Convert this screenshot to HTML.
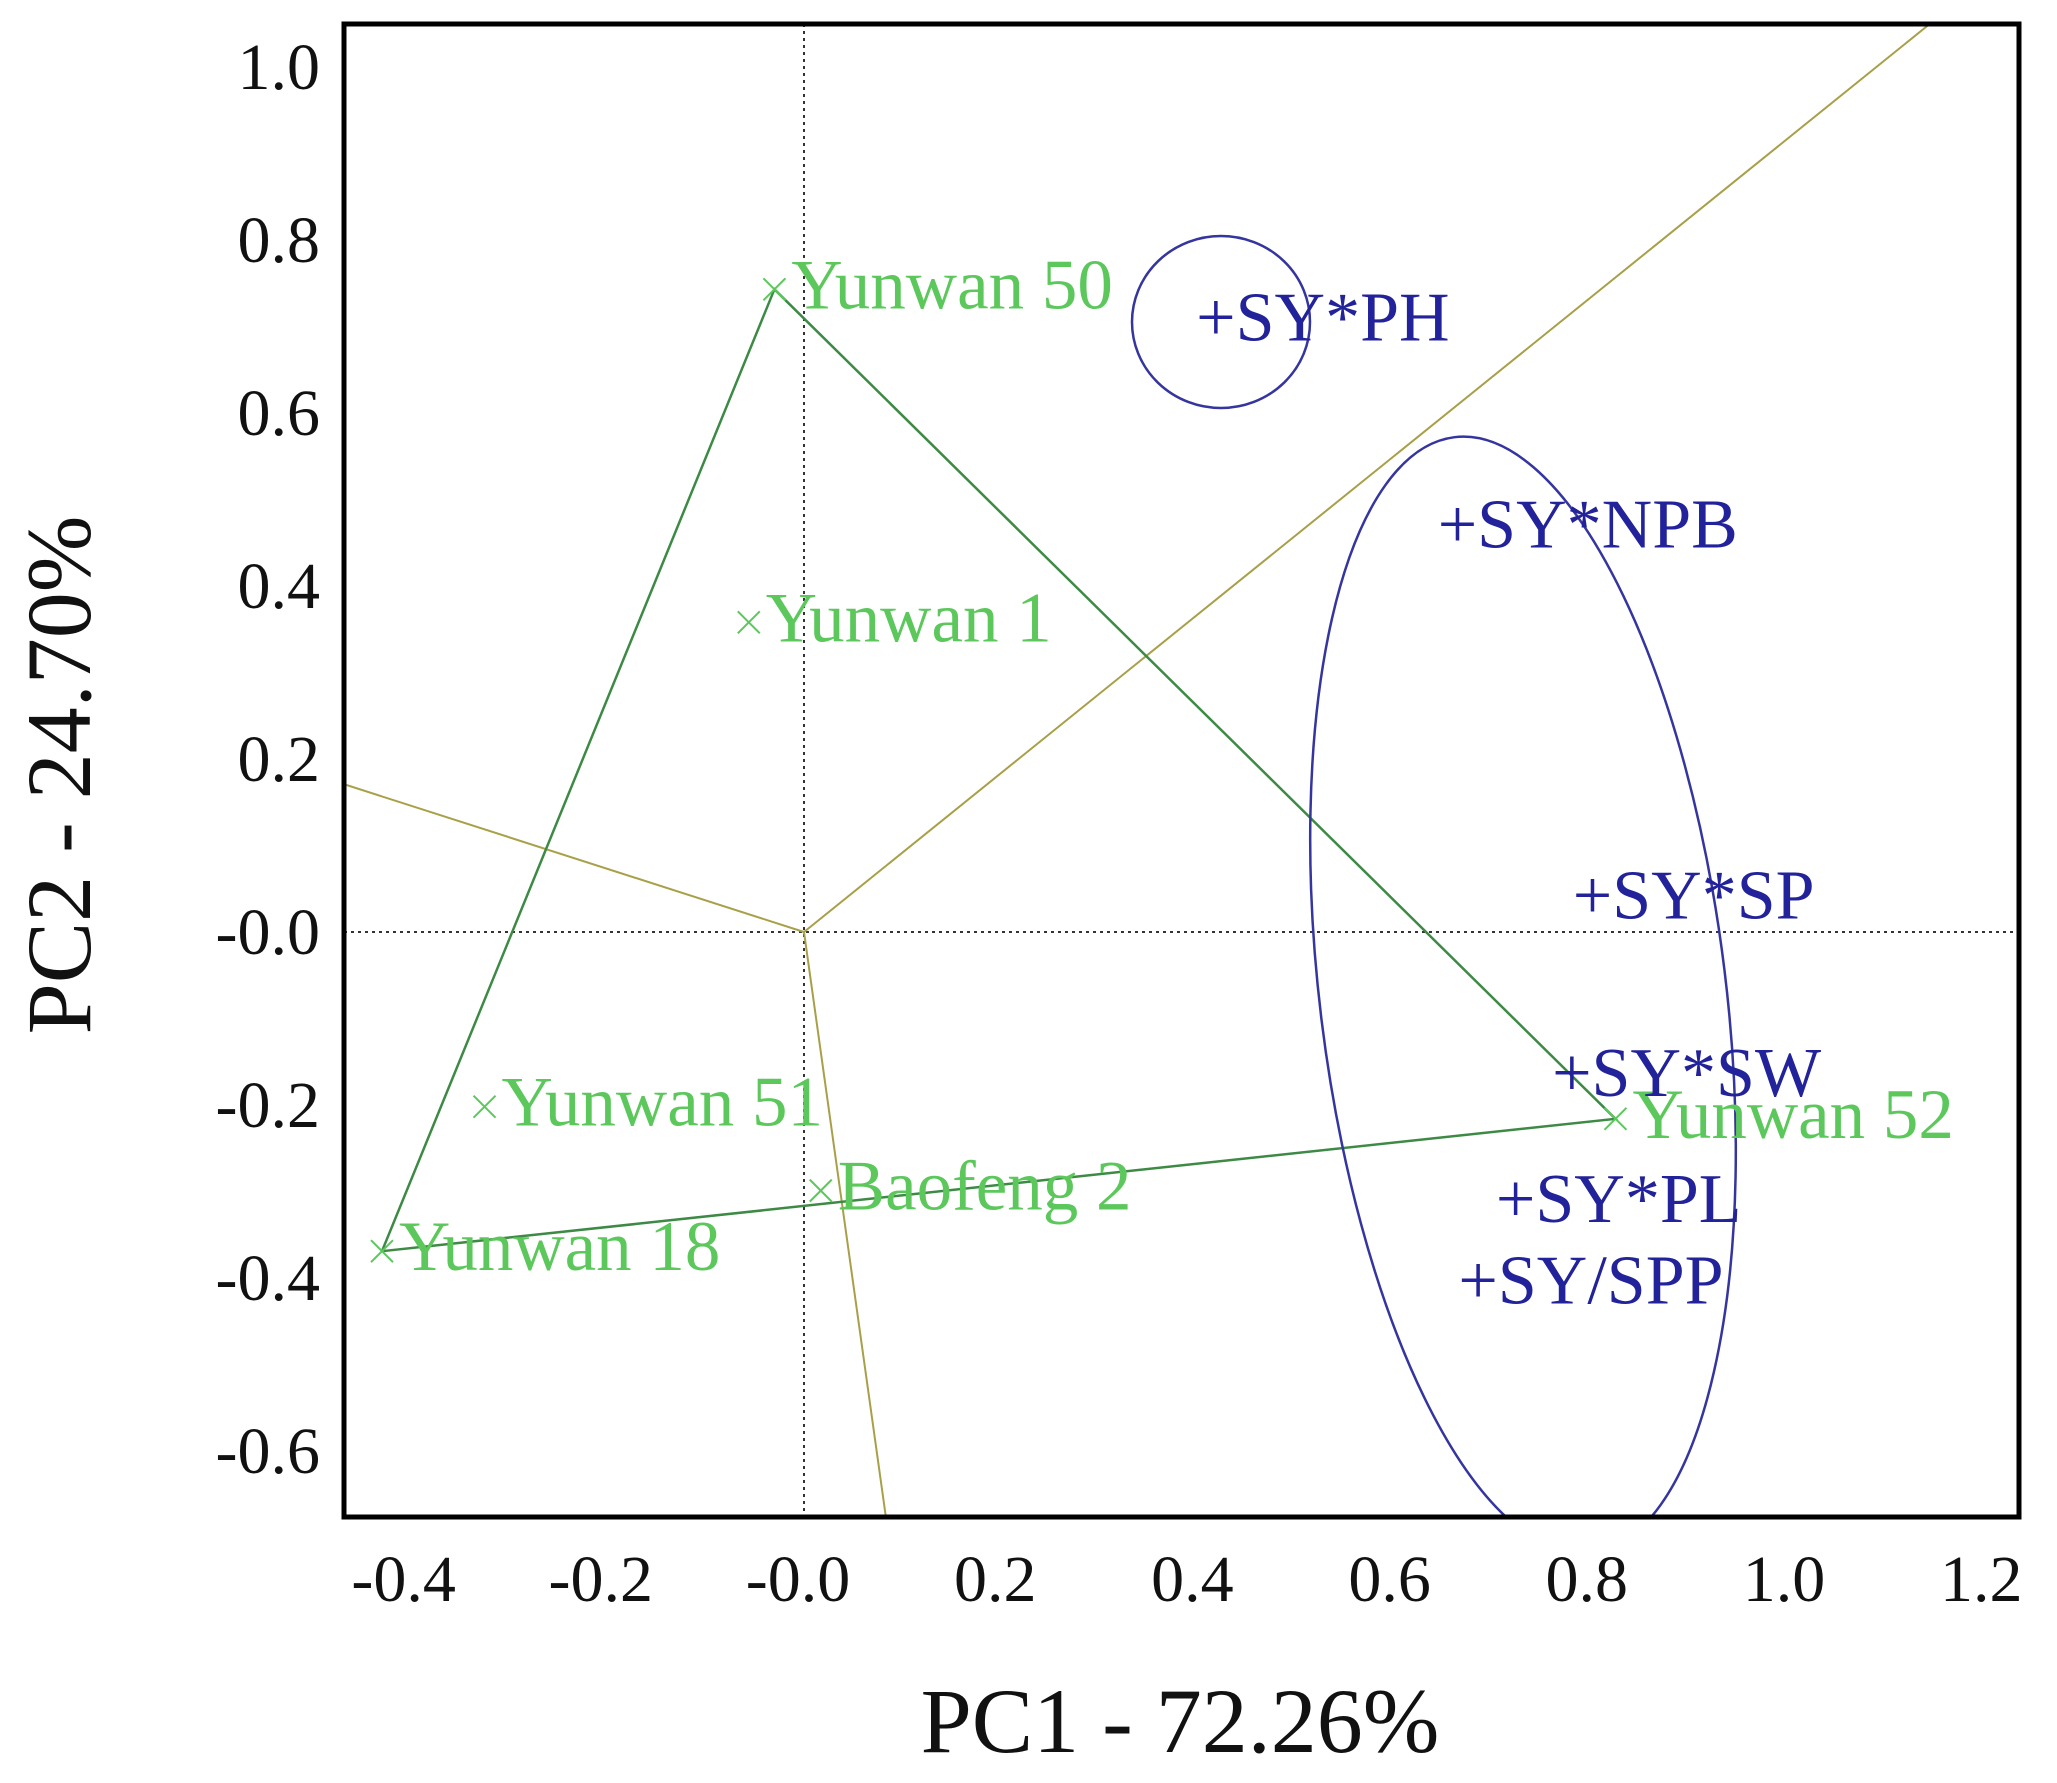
<!DOCTYPE html>
<html><head><meta charset="utf-8"><style>
html,body{margin:0;padding:0;background:#fff;}
svg{display:block;font-family:"Liberation Serif",serif;}
</style></head><body>
<svg id="chart" width="2057" height="1783" viewBox="0 0 2057 1783"></svg>
<script>
const genotypes = ["Yunwan 50","Yunwan 1","Yunwan 51","Baofeng 2","Yunwan 18","Yunwan 52"];
const genoX = [-0.030,-0.056,-0.324,0.017,-0.428,0.823];
const genoY = [0.743,0.358,-0.202,-0.299,-0.369,-0.216];
const traits = ["SY*PH","SY*NPB","SY*SP","SY*SW","SY*PL","SY/SPP"];
const traitX = [0.420,0.665,0.802,0.781,0.724,0.686];
const traitY = [0.709,0.470,0.041,-0.164,-0.310,-0.404];
const hullOrder = [0,5,4];
const sectorEndX = [1.142,-0.467,0.083];
const sectorEndY = [1.050,0.171,-0.676];
const xTicks = [-0.4,-0.2,0.0,0.2,0.4,0.6,0.8,1.0,1.2];
const xTickLabels = ["-0.4","-0.2","-0.0","0.2","0.4","0.6","0.8","1.0","1.2"];
const yTicks = [1.0,0.8,0.6,0.4,0.2,0.0,-0.2,-0.4,-0.6];
const yTickLabels = ["1.0","0.8","0.6","0.4","0.2","-0.0","-0.2","-0.4","-0.6"];

const L=344,R=2019,T=24,B=1517;
const X=v=>804+986*v;
const Y=v=>932-865*v;
const svg=document.getElementById('chart');
const NS='http://www.w3.org/2000/svg';
function mk(tag,attrs,parent){const e=document.createElementNS(NS,tag);for(const k in attrs)e.setAttribute(k,attrs[k]);(parent||svg).appendChild(e);return e;}

const defs=mk('defs',{});
const cp=mk('clipPath',{id:'clip'},defs);
mk('rect',{x:L,y:T,width:R-L,height:B-T},cp);
const plot=mk('g',{'clip-path':'url(#clip)'});



let e=mk('line',{x1:X(0),x2:X(0),y1:T,y2:B,stroke:'#333','stroke-width':2,'stroke-dasharray':'3,4'},plot);

e=mk('line',{x1:L,x2:R,y1:Y(0),y2:Y(0),stroke:'#333','stroke-width':2,'stroke-dasharray':'3,4'},plot);


for(let i=0;i<sectorEndX.length;i++){
  e=mk('line',{x1:X(0),y1:Y(0),x2:X(sectorEndX[i]),y2:Y(sectorEndY[i]),stroke:'#a8a048','stroke-width':2},plot);
  
}
const pts=hullOrder.map(i=>X(genoX[i])+','+Y(genoY[i])).join(' ');
e=mk('polygon',{points:pts,fill:'none',stroke:'#3d8a45','stroke-width':2.5},plot);


e=mk('ellipse',{cx:1221,cy:322,rx:89,ry:86,fill:'none',stroke:'#3535a0','stroke-width':2.5},plot);

e=mk('ellipse',{cx:1523,cy:995,rx:203,ry:562,transform:'rotate(-7 1523 995)',fill:'none',stroke:'#3535a0','stroke-width':2.5},plot);


for(let i=0;i<genotypes.length;i++){
  const px=X(genoX[i]),py=Y(genoY[i]);
  const g=mk('g',{},plot);
  
  mk('path',{d:`M${px-11},${py-11}L${px+11},${py+11}M${px-11},${py+11}L${px+11},${py-11}`,stroke:'#5cc85c','stroke-width':2},g);
  const t=mk('text',{x:px+17,y:py+19,fill:'#5cc85c','font-size':71},g);
  t.textContent=genotypes[i];
}
for(let i=0;i<traits.length;i++){
  const px=X(traitX[i]),py=Y(traitY[i]);
  const t=mk('text',{x:px-22,y:py+22,fill:'#22229a','font-size':70},plot);
  
  t.textContent='+'+traits[i];
}

e=mk('rect',{x:L,y:T,width:R-L,height:B-T,fill:'none',stroke:'#000','stroke-width':5});


for(let i=0;i<xTicks.length;i++){
  const t=mk('text',{x:X(xTicks[i])-6,y:1601,'text-anchor':'middle','font-size':66,fill:'#111'});
  
  t.textContent=xTickLabels[i];
}
for(let i=0;i<yTicks.length;i++){
  const t=mk('text',{x:320,y:Y(yTicks[i])+22,'text-anchor':'end','font-size':66,fill:'#111'});
  
  t.textContent=yTickLabels[i];
}
e=mk('text',{x:1180,y:1752,'text-anchor':'middle','font-size':92,fill:'#111'});

e.textContent='PC1 - 72.26%';
e=mk('text',{x:0,y:0,'text-anchor':'middle','font-size':92,fill:'#111',transform:'translate(90 775) rotate(-90)'});

e.textContent='PC2 - 24.70%';
</script>
</body></html>
